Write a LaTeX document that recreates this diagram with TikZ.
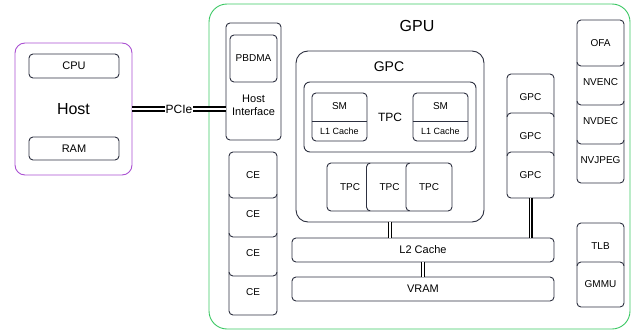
\documentclass[tikz,border=0pt]{standalone}
\usepackage{fontspec}
\setmainfont{Liberation Sans}
\usepackage{tikz}
\usetikzlibrary{positioning}

\definecolor{boxline}{RGB}{45,48,64}
\definecolor{gpugreen}{RGB}{60,200,100}
\definecolor{hostpurple}{RGB}{170,80,210}

\begin{document}
\begin{tikzpicture}[x=1pt,y=-1pt,line width=0.9pt,
  box/.style={draw=boxline, fill=white, rounded corners=4pt, inner sep=0pt},
  unit/.style={box, minimum width=47pt, minimum height=46pt, font=\fontsize{10}{11}\selectfont},
  link/.style={draw=black, double=white, line width=1.1pt, double distance=1.8pt},
  pcie/.style={draw=black, double=white, line width=2.2pt, double distance=2pt}]

\useasboundingbox (0,0) rectangle (642,332);

% host side
\node [draw=hostpurple, rounded corners=10pt, minimum width=117pt, minimum height=132pt, inner sep=0pt, font=\fontsize{16}{18}\selectfont] (host) at (73.5,109) {Host};
\node [box, minimum width=90pt, minimum height=24pt, font=\fontsize{11}{12}\selectfont] (cpu) at (74,66) {CPU};
\node [box, minimum width=90pt, minimum height=23pt, font=\fontsize{11}{12}\selectfont] (ram) at (74,148.5) {RAM};

% gpu frame
\node [draw=gpugreen, rounded corners=18pt, minimum width=421pt, minimum height=325pt, inner sep=0pt] (gpu) at (419.5,166.5) {};
\node [font=\fontsize{16}{18}\selectfont] (gpulabel) at (417,26) {GPU};

% host interface
\node [box, minimum width=55pt, minimum height=117pt] (hif) at (253.5,81.5) {};
\node [box, minimum width=47pt, minimum height=47pt, font=\fontsize{10}{11}\selectfont] (pbdma) at (253.5,58.5) {PBDMA};
\node [align=center, font=\fontsize{11}{13}\selectfont] (hiflabel) at (253.5,105) {Host\\Interface};

\draw [pcie] (host.east) -- node[fill=white, inner sep=1pt, font=\fontsize{12}{14}\selectfont] (pcielabel) {PCIe} (host.east -| hif.west);

% copy engines
\node [unit, minimum width=48pt] (ce4) at (253,292) {CE};
\node [unit, minimum width=48pt] (ce3) at (253,253) {CE};
\node [unit, minimum width=48pt] (ce2) at (253,214) {CE};
\node [unit, minimum width=48pt] (ce1) at (253,175) {CE};

% gpc
\node [box, rounded corners=12pt, minimum width=188pt, minimum height=171pt] (gpc) at (390,136.5) {};
\node [font=\fontsize{14}{16}\selectfont] (gpclabel) at (389,67) {GPC};
\node [box, rounded corners=6pt, minimum width=172pt, minimum height=70pt, font=\fontsize{12}{14}\selectfont] (tpc) at (390,117) {TPC};

\node [box, minimum width=55pt, minimum height=48pt] (smA) at (339.5,117) {};
\node [font=\fontsize{10}{11}\selectfont] (smAtext) at (339.5,106) {SM};
\node [font=\fontsize{9}{10}\selectfont] (lcA) at (339.5,131) {L1 Cache};
\draw [boxline] (smA.west |- 0,121) -- (smA.east |- 0,121);

\node [box, minimum width=55pt, minimum height=48pt] (smB) at (440.5,117) {};
\node [font=\fontsize{10}{11}\selectfont] (smBtext) at (440.5,106) {SM};
\node [font=\fontsize{9}{10}\selectfont] (lcB) at (440.5,131) {L1 Cache};
\draw [boxline] (smB.west |- 0,121) -- (smB.east |- 0,121);

\node [unit, minimum width=46pt, minimum height=48pt] (tpcA) at (350,187) {TPC};
\node [unit, minimum width=46pt, minimum height=48pt] (tpcB) at (389.5,187) {TPC};
\node [unit, minimum width=46pt, minimum height=48pt] (tpcC) at (429,187) {TPC};

% other gpcs
\node [unit] (gpcA) at (530.5,97) {GPC};
\node [unit] (gpcB) at (530.5,136) {GPC};
\node [unit] (gpcC) at (530.5,175) {GPC};

% memory
\node [box, minimum width=262pt, minimum height=24pt, font=\fontsize{11}{12}\selectfont] (l2) at (423,250) {L2 Cache};
\node [box, minimum width=262pt, minimum height=24pt, font=\fontsize{11}{12}\selectfont] (vram) at (423,289) {VRAM};

\draw [link] (gpc.south) -- (gpc.south |- l2.north);
\draw [link] (gpcC.south) -- (gpcC.south |- l2.north);
\draw [link] (l2.south) -- (vram.north);

% engines
\node [unit] (nvjpeg) at (600.5,160) {NVJPEG};
\node [unit] (nvdec) at (600.5,121) {NVDEC};
\node [unit] (nvenc) at (600.5,82) {NVENC};
\node [unit] (ofa) at (600.5,43) {OFA};

\node [unit] (tlb) at (600.5,246) {TLB};
\node [unit, minimum height=45pt] (gmmu) at (600.5,284.5) {GMMU};

\end{tikzpicture}
\end{document}
